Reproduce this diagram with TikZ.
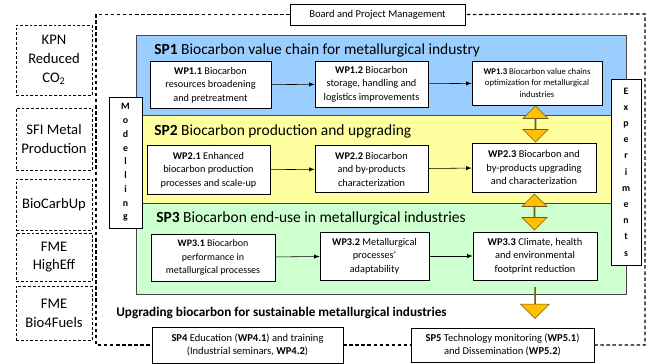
\documentclass[tikz,border=0pt]{standalone}
\usepackage{fontspec}
\setmainfont{Carlito}
\usepackage{tikz}
\usetikzlibrary{shapes.arrows,calc}
\definecolor{skyblue}{RGB}{153, 206, 255}
\definecolor{lemon}{RGB}{255, 255, 160}
\definecolor{mint}{RGB}{206, 255, 206}
\definecolor{amber}{RGB}{255, 192, 0}
\definecolor{umber}{RGB}{110, 90, 30}
\definecolor{slate}{RGB}{70, 70, 70}

\begin{document}
\begin{tikzpicture}[x=0.025cm, y=-0.025cm, >=latex,
        wpbox/.style={draw, fill=white, align=center, inner sep=1pt, font=\fontsize{7.3}{9.6}\selectfont},
        sidebox/.style={draw, dash pattern=on 2pt off 1.4pt, align=center, minimum width=1.9cm, inner sep=0pt, font=\fontsize{10.4}{13.4}\selectfont},
        spbox/.style={draw, fill=white, align=center, inner sep=1pt, font=\fontsize{7.5}{9.5}\selectfont},
        sptitle/.style={anchor=west, inner sep=0pt, font=\fontsize{11}{13}\selectfont},
        sidebar/.style={draw, fill=white, align=center, inner sep=0pt, font=\bfseries\fontsize{7}{9.8}\selectfont},
        dblarrow/.style={double arrow, rotate=90, draw=umber, fill=amber, minimum width=0.625cm, double arrow head extend=0.175cm, inner sep=0pt},
        downarrow/.style={single arrow, rotate=-90, draw=umber, fill=amber, minimum width=0.72cm, single arrow head extend=0.21cm, inner sep=0pt},
        frame/.style={dash pattern=on 2.5pt off 1.8pt, line width=0.8pt}]
    \useasboundingbox (0,0) rectangle (649,363);
    \filldraw[color=slate, fill=skyblue] (136, 35) rectangle (626,115);
    \filldraw[color=slate, fill=lemon]   (136,115) rectangle (626,203);
    \filldraw[color=slate, fill=mint]    (136,203) rectangle (626,294);
    \node[sptitle] (t1) at (154, 50) {\textbf{SP1} Biocarbon value chain for metallurgical industry};
    \node[sptitle] (t2) at (154,131) {\textbf{SP2} Biocarbon production and upgrading};
    \node[sptitle] (t3) at (156,218) {\textbf{SP3} Biocarbon end-use in metallurgical industries};
    \node[wpbox, minimum width=3.025cm, minimum height=1.175cm] (wp11) at (210.5, 85) {\textbf{WP1.1} Biocarbon\\resources broadening\\and pretreatment};
    \node[wpbox, minimum width=2.825cm, minimum height=1.15cm]  (wp12) at (371.5, 84) {\textbf{WP1.2} Biocarbon\\storage, handling and\\logistics improvements};
    \node[wpbox, minimum width=3.25cm,  minimum height=1.1cm, font=\fontsize{6.2}{8.4}\selectfont] (wp13) at (537, 83) {\textbf{WP1.3} Biocarbon value chains\\optimization for metallurgical\\industries};
    \node[wpbox, minimum width=3.075cm, minimum height=1.225cm] (wp21) at (208.5,170) {\textbf{WP2.1} Enhanced\\biocarbon production\\processes and scale-up};
    \node[wpbox, minimum width=2.825cm, minimum height=1.175cm] (wp22) at (371.5,169) {\textbf{WP2.2} Biocarbon\\and by-products\\characterization};
    \node[wpbox, minimum width=3.1cm,   minimum height=1.225cm, font=\fontsize{7.4}{9.8}\selectfont] (wp23) at (534,167.5) {\textbf{WP2.3} Biocarbon and\\by-products upgrading\\and characterization};
    \node[wpbox, minimum width=3.1cm,   minimum height=1.175cm, font=\fontsize{7.1}{9.6}\selectfont] (wp31) at (213,257.5) {\textbf{WP3.1} Biocarbon\\performance in\\metallurgical processes};
    \node[wpbox, minimum width=2.725cm, minimum height=1.2cm]   (wp32) at (374.5,256) {\textbf{WP3.2} Metallurgical\\processes'\\adaptability};
    \node[wpbox, minimum width=3.1cm,   minimum height=1.2cm, font=\fontsize{7.4}{9.8}\selectfont]   (wp33) at (535,256) {\textbf{WP3.3} Climate, health\\and environmental\\footprint reduction};
    \draw[->] (wp11) -- (wp12);
    \draw[->] (wp12) -- (wp13);
    \draw[->] (wp21) -- (wp22);
    \draw[->] (wp22) -- (wp23);
    \draw[->] (wp31) -- (wp32);
    \draw[->] (wp32) -- (wp33);
    \node[dblarrow, minimum height=0.9cm] (a1323) at ($(wp13.south)!0.5!(wp23.north)$) {};
    \node[dblarrow, minimum height=0.9cm] (a2333) at ($(wp23.south)!0.5!(wp33.north)$) {};
    \node[downarrow, minimum height=0.775cm] (a33) at ($(wp33.south)+(0,22.5)$) {};
    \node[sidebar, minimum width=0.825cm, minimum height=3.275cm] (model) at (125.5,162.5) {M\\o\\d\\e\\l\\l\\i\\n\\g};
    \node[sidebar, minimum width=0.75cm,  minimum height=4.65cm, font=\bfseries\fontsize{7}{11.5}\selectfont] (exper) at (626,172) {E\\x\\p\\e\\r\\i\\m\\e\\n\\t\\s};
    \node[sidebox, minimum height=1.75cm]  (kpn)  at (54, 60)   {KPN\\Reduced\\CO\textsubscript{2}};
    \node[sidebox, minimum height=1.55cm]  (sfi)  at (54,139)   {SFI Metal\\Production};
    \node[sidebox, minimum height=1.275cm] (bcu)  at (54,204.5) {BioCarbUp};
    \node[sidebox, minimum height=1.2cm]   (heff) at (54,257)   {FME\\HighEff};
    \node[sidebox, minimum height=1.35cm]  (b4f)  at (54,313)   {FME\\Bio4Fuels};
    \node[spbox, minimum width=4.375cm, minimum height=0.525cm] (board) at (377.5,14.5) {Board and Project Management};
    \node[spbox, minimum width=4.775cm, minimum height=0.9cm]   (sp4)   at (247.5,345)  {\textbf{SP4} Education (\textbf{WP4.1}) and training\\(Industrial seminars, \textbf{WP4.2})};
    \node[spbox, minimum width=4.575cm, minimum height=0.85cm]  (sp5)   at (502.5,345)  {\textbf{SP5} Technology monitoring (\textbf{WP5.1})\\and Dissemination (\textbf{WP5.2})};
    \node[anchor=west, inner sep=0pt, font=\bfseries\fontsize{9.4}{11}\selectfont] (goal) at (116,313) {Upgrading biocarbon for sustainable metallurgical industries};
    \draw[frame] (board.west) -| (96,345) -- (sp4.west);
    \draw[frame] (sp4.east) -- (sp5.west);
    \draw[frame] (sp5.east) -| (645,14) -- (board.east);
\end{tikzpicture}
\end{document}
